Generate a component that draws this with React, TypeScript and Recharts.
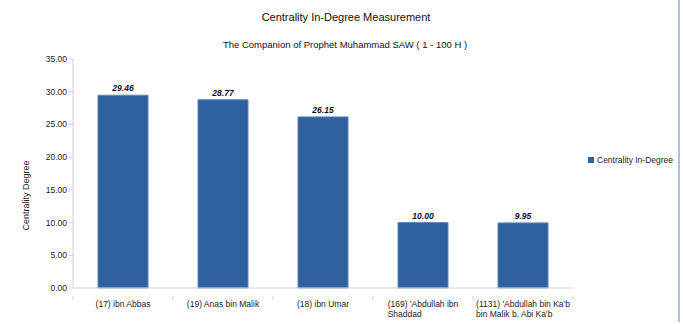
import React from "react";
import {
  BarChart,
  Bar,
  XAxis,
  YAxis,
  Legend,
  LabelList,
} from "recharts";

const companions = [
  "(17) ibn Abbas",
  "(19) Anas bin Malik",
  "(18) ibn Umar",
  "(169) 'Abdullah ibn Shaddad",
  "(1131) 'Abdullah bin Ka'b bin Malik b. Abi Ka'b",
];
const inDegree = [29.46, 28.77, 26.15, 10.0, 9.95];
const yTicks = [0, 5, 10, 15, 20, 25, 30, 35];

const SERIES_NAME = "Centrality In-Degree";
const FONT = "'Liberation Sans', Arial, sans-serif";
const BAR_FILL = "#2f609f";
const FRAME = "#d0d0d0";
const TEXT = "#222";
const TICK_FS = 8.5;

const W = 683;
const H = 324;
const MARGIN = { top: 59, right: 110, bottom: 0, left: 0 };
const Y_AXIS_W = 73;
const X_AXIS_H = 36;
const BAND = (W - MARGIN.right - Y_AXIS_W) / companions.length;

const data = companions.map((name, i) => ({ name, value: inDegree[i] }));

let ctx: CanvasRenderingContext2D | null = null;
function textWidth(s: string) {
  if (!ctx) ctx = document.createElement("canvas").getContext("2d");
  if (!ctx) return s.length * 4.5;
  ctx.font = `${TICK_FS}px ${FONT}`;
  return ctx.measureText(s).width;
}

// wrap a category name into lines that fit inside one band
function wrap(label: string, max: number) {
  const lines: string[] = [];
  let cur = "";
  for (const w of label.split(" ")) {
    const next = cur ? cur + " " + w : w;
    if (cur && textWidth(next) > max) {
      lines.push(cur);
      cur = w;
    } else cur = next;
  }
  if (cur) lines.push(cur);
  return lines;
}

function CategoryTick(props: any) {
  const { x, y, payload, index } = props;
  const lines = wrap(String(payload.value), BAND - 4);
  const widest = Math.max(...lines.map(textWidth));
  const left = lines.length > 1 ? x - widest / 2 : x;
  const half = BAND / 2;
  return (
    <g>
      <line x1={x - half} x2={x - half} y1={y} y2={y + 4} stroke={FRAME} />
      {index === companions.length - 1 && (
        <line x1={x + half} x2={x + half} y1={y} y2={y + 4} stroke={FRAME} />
      )}
      <text
        x={left}
        y={y + 11}
        textAnchor={lines.length > 1 ? "start" : "middle"}
        fontSize={TICK_FS}
        fontFamily={FONT}
        fill={TEXT}
      >
        {lines.map((l, i) => (
          <tspan key={i} x={left} dy={i === 0 ? 0 : 10}>
            {l}
          </tspan>
        ))}
      </text>
    </g>
  );
}

function LegendBox() {
  return (
    <div
      style={{
        display: "flex",
        alignItems: "center",
        fontFamily: FONT,
        fontSize: TICK_FS,
        color: TEXT,
        whiteSpace: "nowrap",
      }}
    >
      <span
        style={{
          width: 6,
          height: 6,
          background: BAR_FILL,
          marginRight: 3,
          display: "inline-block",
        }}
      />
      {SERIES_NAME}
    </div>
  );
}

export default function App() {
  return (
    <div
      style={{
        position: "absolute",
        left: 0,
        top: 0,
        width: W,
        height: H,
        background: "#fff",
        fontFamily: FONT,
      }}
    >
      <div
        style={{
          position: "absolute",
          left: 0,
          width: 692,
          top: 11,
          textAlign: "center",
          fontSize: 11,
          color: "#111",
        }}
      >
        Centrality In-Degree Measurement
      </div>
      <div
        style={{
          position: "absolute",
          left: 0,
          width: 690,
          top: 39,
          textAlign: "center",
          fontSize: 9.5,
          color: "#111",
        }}
      >
        The Companion of Prophet Muhammad SAW ( 1 - 100 H )
      </div>
      <div
        style={{
          position: "absolute",
          left: 678,
          top: 0,
          width: 2,
          height: 322,
          background: "#a9c1e0",
        }}
      />
      <BarChart
        width={W}
        height={H}
        data={data}
        margin={MARGIN}
        barCategoryGap="25%"
        style={{ position: "absolute", left: 0, top: 0 }}
      >
        <XAxis
          dataKey="name"
          type="category"
          height={X_AXIS_H}
          interval={0}
          tickLine={false}
          axisLine={{ stroke: FRAME }}
          tick={<CategoryTick />}
        />
        <XAxis
          xAxisId="top"
          dataKey="name"
          orientation="top"
          height={0}
          tick={false}
          tickLine={false}
          axisLine={{ stroke: FRAME }}
        />
        <YAxis
          type="number"
          domain={[0, 35]}
          ticks={yTicks}
          width={Y_AXIS_W}
          interval={0}
          tickSize={4}
          tickMargin={2}
          tickFormatter={(v: number) => v.toFixed(2)}
          tick={{ fontSize: TICK_FS, fill: TEXT, fontFamily: FONT }}
          tickLine={{ stroke: FRAME }}
          axisLine={{ stroke: FRAME }}
          label={{
            value: "Centrality Degree",
            angle: -90,
            position: "insideLeft",
            offset: 26,
            dy: 22,
            style: {
              fontSize: 9,
              fill: TEXT,
              fontFamily: FONT,
              textAnchor: "middle",
            },
          }}
        />
        <YAxis
          yAxisId="right"
          orientation="right"
          width={0}
          domain={[0, 35]}
          tick={false}
          tickLine={false}
          axisLine={{ stroke: FRAME }}
        />
        <Legend
          layout="vertical"
          align="center"
          verticalAlign="middle"
          content={<LegendBox />}
          wrapperStyle={{ left: 588, top: 155, width: "auto" }}
        />
        <Bar
          dataKey="value"
          name={SERIES_NAME}
          fill={BAR_FILL}
          stroke="#5b87bf"
          strokeWidth={1}
          isAnimationActive={false}
        >
          <LabelList
            dataKey="value"
            position="top"
            offset={4}
            formatter={(v: any) => Number(v).toFixed(2)}
            style={{
              fontSize: 8.5,
              fontWeight: "bold",
              fontStyle: "italic",
              fill: "#111",
              fontFamily: FONT,
            }}
          />
        </Bar>
      </BarChart>
    </div>
  );
}
